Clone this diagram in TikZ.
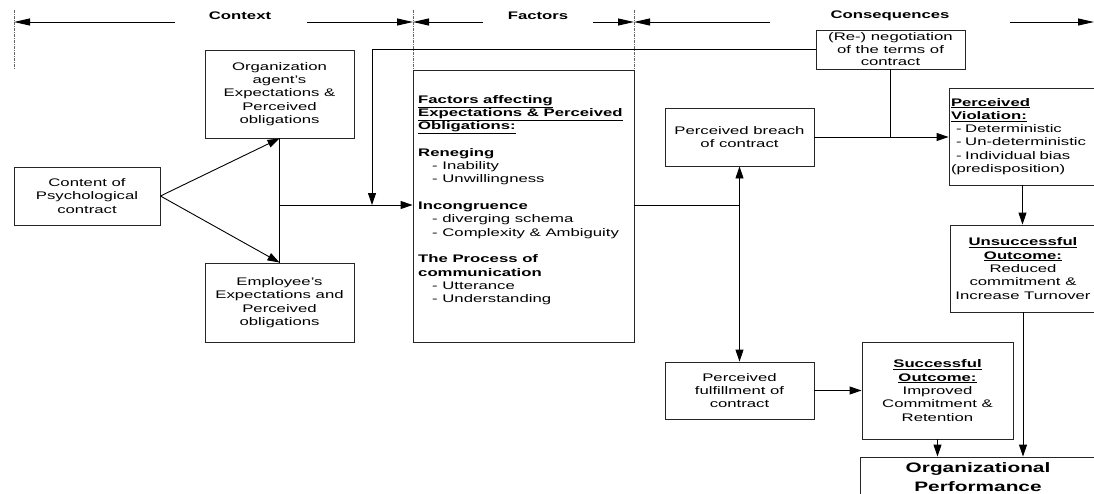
\documentclass[tikz,border=0pt]{standalone}
\usepackage{fontspec}
\setmainfont{Liberation Sans}[FakeStretch=1.52]
\usetikzlibrary{arrows.meta}
\newcommand{\ub}[1]{\textbf{\underline{#1}}}
\begin{document}
\begin{tikzpicture}[x=1pt,y=-1pt,
  txt/.style={font=\fontsize{11}{13.3}\selectfont},
  box/.style={draw=black!85, line width=0.9pt, inner sep=1pt, align=center, txt},
  conn/.style={line width=0.9pt, draw=black},
  arrowline/.style={conn, -{Triangle[length=12pt,width=8pt]}},
  hdrarrow/.style={conn, -{Triangle[length=16pt,width=7pt]}},
  dashdotline/.style={line width=0.7pt, draw=black!60, dash pattern=on 3pt off 1pt on 1pt off 1pt},
  hdr/.style={font=\fontsize{11}{13.3}\selectfont\bfseries, inner sep=0pt}]
\useasboundingbox (0,0) rectangle (1094,493);

% header
\node[hdr] (hctx) at (240,16) {Context};
\node[hdr] (hfac) at (538,16) {Factors};
\node[hdr] (hcon) at (890,16) {Consequences};
\coordinate (d1t) at (14,10);  \coordinate (d1b) at (14,70);
\coordinate (d2t) at (413,10); \coordinate (d2b) at (413,70);
\coordinate (d3t) at (634,10); \coordinate (d3b) at (634,70);
\draw[dashdotline] (d1t) -- (d1b);
\draw[dashdotline] (d2t) -- (d2b);
\draw[dashdotline] (d3t) -- (d3b);
\coordinate (a1s) at (175,22); \coordinate (a1e) at (14,22);
\coordinate (a2s) at (307,22); \coordinate (a2e) at (413,22);
\coordinate (a3s) at (483,22); \coordinate (a3e) at (413,22);
\coordinate (a4s) at (593,22); \coordinate (a4e) at (634,22);
\coordinate (a5s) at (770,22); \coordinate (a5e) at (634,22);
\coordinate (a6s) at (1010,22); \coordinate (a6e) at (1094,22);
\draw[hdrarrow] (a1s) -- (a1e);
\draw[hdrarrow] (a2s) -- (a2e);
\draw[hdrarrow] (a3s) -- (a3e);
\draw[hdrarrow] (a4s) -- (a4e);
\draw[hdrarrow] (a5s) -- (a5e);
\draw[hdrarrow] (a6s) -- (a6e);

% boxes
\node[box, minimum width=146pt, minimum height=58pt] (content) at (87,196)
  {Content of\\Psychological\\contract};
\node[box, minimum width=149pt, minimum height=88pt] (org) at (279.5,94)
  {Organization\\agent’s\\Expectations \&\\Perceived\\obligations};
\node[box, minimum width=149pt, minimum height=79pt] (emp) at (279.5,302.5)
  {Employee’s\\Expectations and\\Perceived\\obligations};
\node[box, minimum width=221pt, minimum height=272pt] (fac) at (523.5,206) {};
\node[txt, anchor=north west, align=left, inner sep=0pt] (factxt) at (418,95)
  {\ub{Factors affecting}\\
   \ub{Expectations \& Perceived}\\
   \ub{Obligations:}\\[13.3pt]
   \textbf{Reneging}\\
   \hspace*{14pt}- Inability\\
   \hspace*{14pt}- Unwillingness\\[13.3pt]
   \textbf{Incongruence}\\
   \hspace*{14pt}- diverging schema\\
   \hspace*{14pt}- Complexity \& Ambiguity\\[13.3pt]
   \textbf{The Process of}\\
   \textbf{communication}\\
   \hspace*{14pt}- Utterance\\
   \hspace*{14pt}- Understanding};
\node[box, minimum width=149pt, minimum height=39pt, font=\fontsize{11}{12.5}\selectfont] (nego) at (890.5,49.5)
  {(Re-) negotiation\\of the terms of\\contract};
\node[box, minimum width=149pt, minimum height=58pt] (breach) at (739.5,137)
  {Perceived breach\\of contract};
\node[box, minimum width=149pt, minimum height=57pt] (fulfill) at (739.5,390.5)
  {Perceived\\fulfillment of\\contract};
\node[box, minimum width=147pt, minimum height=97pt, align=left, text width=143pt] (viol) at (1022.5,136.5)
  {\ub{Perceived}\\
   \ub{Violation:}\\
   \hspace*{5pt}- Deterministic\\
   \hspace*{5pt}- Un-deterministic\\
   \hspace*{5pt}- Individual bias\\
   (predisposition)};
\node[box, minimum width=146pt, minimum height=87pt] (unsucc) at (1023,268.5)
  {\ub{Unsuccessful}\\\ub{Outcome:}\\Reduced\\commitment \&\\Increase Turnover};
\node[box, minimum width=151pt, minimum height=97pt] (succ) at (937.5,390.5)
  {\ub{Successful}\\\ub{Outcome:}\\Improved\\Commitment \&\\Retention};
\node[box, minimum width=236pt, minimum height=41pt, font=\fontsize{13.7}{19}\selectfont\bfseries] (perf) at (978,477.5)
  {Organizational\\Performance};

% connectors
\draw[arrowline] (content.east) -- (org.south);
\draw[arrowline] (content.east) -- (emp.north);
\draw[conn] (org.south) -- (emp.north);
\coordinate (j1) at (279.5,205);
\draw[arrowline] (j1) -- (j1 -| fac.west);
\coordinate (j2) at (372,205);
\draw[arrowline] (nego.west) -| (j2);
\coordinate (j3) at (739.5,205);
\draw[conn] (j3 -| fac.east) -- (j3);
\draw[arrowline] (j3) -- (breach.south);
\draw[arrowline] (j3) -- (fulfill.north);
\draw[arrowline] (breach.east) -- (breach.east -| viol.west);
\draw[conn] (nego.south) -- (nego.south |- breach.east);
\draw[arrowline] (viol.south) -- (viol.south |- unsucc.north);
\draw[arrowline] (unsucc.south) -- (unsucc.south |- perf.north);
\draw[arrowline] (fulfill.east) -- (succ.west);
\draw[arrowline] (succ.south) -- (succ.south |- perf.north);
\end{tikzpicture}
\end{document}
